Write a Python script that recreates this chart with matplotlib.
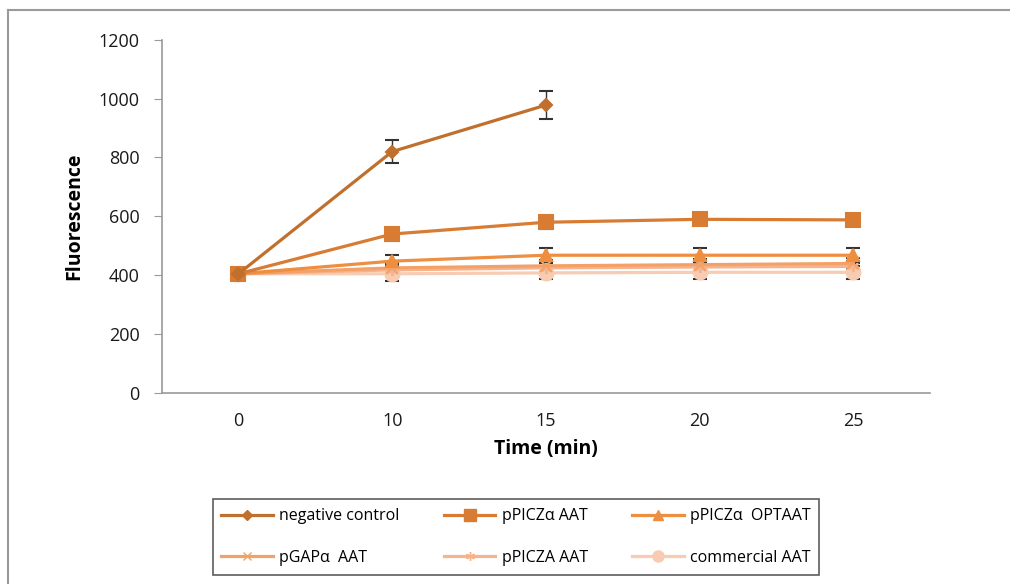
import numpy as np
import matplotlib
matplotlib.use('Agg')
import matplotlib.pyplot as plt
from matplotlib.lines import Line2D

# data
time_labels = ['0', '10', '15', '20', '25']

neg_control = [405, 820, 978]
neg_control_err = [12, 40, 48]

ppiczA_aat = [405, 540, 580, 590, 588]
ppiczA_aat_err = [12, 22, 22, 20, 20]

ppiczA_opt = [405, 448, 468, 468, 468]
ppiczA_opt_err = [12, 22, 25, 25, 25]

pgap_aat = [405, 425, 432, 436, 440]
pgap_aat_err = [12, 20, 20, 20, 20]

ppicz_aat = [405, 418, 425, 428, 430]
ppicz_aat_err = [12, 20, 20, 20, 20]

commercial = [405, 405, 408, 410, 410]
commercial_err = [12, 25, 22, 22, 22]

series = [
    ('negative control', neg_control, neg_control_err, '#C0702C', 'D', 6),
    ('pPICZα AAT', ppiczA_aat, ppiczA_aat_err, '#D87B33', 's', 10),
    ('pPICZα  OPTAAT', ppiczA_opt, ppiczA_opt_err, '#EE8E40', '^', 9),
    ('pGAPα  AAT', pgap_aat, pgap_aat_err, '#F4A167', 'x', 8),
    ('pPICZA AAT', ppicz_aat, ppicz_aat_err, '#F6B48E', (6, 2, 0), 8),
    ('commercial AAT', commercial, commercial_err, '#F8CBB3', 'o', 10),
]

plt.rcParams['font.family'] = ['Open Sans', 'DejaVu Sans']

fig = plt.figure(figsize=(10.1, 5.84), dpi=100)
ax = fig.add_axes([0.160, 0.327, 0.761, 0.605])

# outer chart border (left and top visible)
fig.add_artist(Line2D([8 / 1010, 8 / 1010], [0, 1 - 10 / 584],
                      transform=fig.transFigure, color='#9a9a9a', lw=1.5))
fig.add_artist(Line2D([8 / 1010, 1], [1 - 10 / 584, 1 - 10 / 584],
                      transform=fig.transFigure, color='#9a9a9a', lw=1.5))

handles = []
for order, (name, vals, errs, col, mk, ms) in enumerate(series):
    x = np.arange(len(vals))
    ax.errorbar(x, vals, yerr=errs, fmt='none', ecolor='#333333',
                elinewidth=1, capsize=5, capthick=1.5, zorder=2 + order * 0.1)
    ax.plot(x, vals, color=col, lw=2.3, marker=mk, markersize=ms,
            markerfacecolor=col, markeredgecolor=col, mew=1.5,
            zorder=10 - order)
    handles.append(Line2D([], [], color=col, lw=2.3, marker=mk,
                          markersize=ms * 0.8, markerfacecolor=col,
                          markeredgecolor=col, label=name))

ax.set_xlim(-0.5, 4.5)
ax.set_ylim(0, 1200)
ax.set_yticks(np.arange(0, 1201, 200))
ax.set_xticks(range(len(time_labels)))
ax.set_xticklabels(time_labels)

for side in ('top', 'right'):
    ax.spines[side].set_visible(False)
for side in ('left', 'bottom'):
    ax.spines[side].set_color('#9a9a9a')
    ax.spines[side].set_linewidth(1.2)

ax.tick_params(axis='y', length=6, color='#9a9a9a', labelsize=13,
               labelcolor='#1a1a1a', pad=10)
ax.tick_params(axis='x', length=0, labelsize=13, labelcolor='#1a1a1a', pad=14)

ax.set_ylabel('Fluorescence', fontsize=14, fontweight='bold', labelpad=10)
ax.set_xlabel('Time (min)', fontsize=14, fontweight='bold', labelpad=6)

# legend filled row by row like the original (matplotlib fills columns)
leg_order = [0, 3, 1, 4, 2, 5]
leg = fig.legend(handles=[handles[i] for i in leg_order], loc='center', ncol=3,
                 bbox_to_anchor=(516 / 1010, 1 - 537 / 584),
                 frameon=True, fancybox=False, fontsize=11.5,
                 handlelength=3.2, columnspacing=2.8, labelspacing=1.6,
                 borderpad=0.55, handletextpad=0.4)
leg.get_frame().set_edgecolor('#333333')
leg.get_frame().set_linewidth(1.2)

fig.savefig('out.png', dpi=100)
